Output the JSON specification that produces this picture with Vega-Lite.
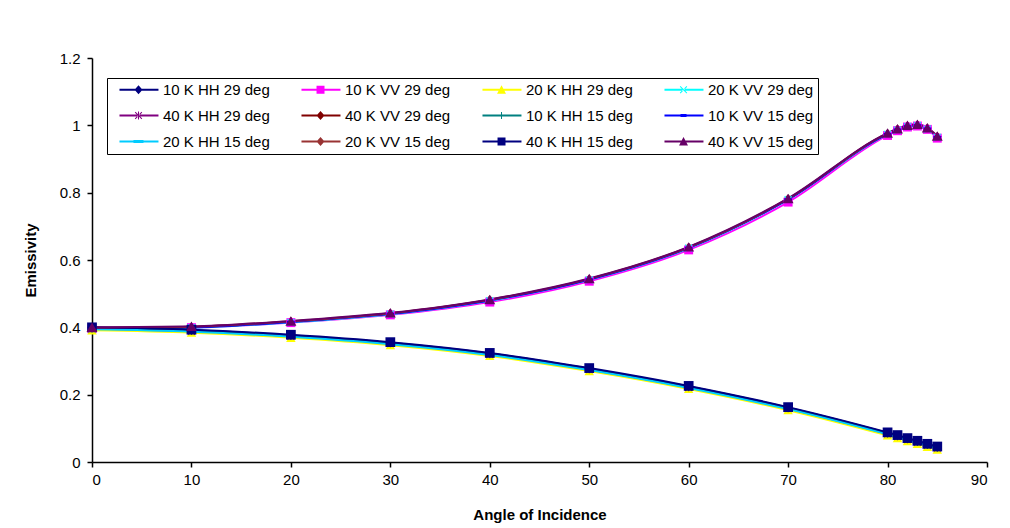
{
  "$schema": "https://vega.github.io/schema/vega-lite/v6.json",
  "width": 895,
  "height": 404,
  "autosize": "none",
  "padding": {"left": 92, "top": 58, "right": 23, "bottom": 66},
  "background": "white",
  "config": {
    "view": {"stroke": null},
    "font": "Liberation Sans",
    "axis": {"labelFont": "Liberation Sans", "titleFont": "Liberation Sans", "labelColor": "black", "titleColor": "black", "domainColor": "black", "tickColor": "black", "grid": false, "labelFontSize": 15, "titleFontSize": 15, "titleFontWeight": "bold", "tickSize": 5, "domainWidth": 1.5, "tickWidth": 1.5}
  },
  "data": {
    "values": [
      {"a": 0, "10 K HH 29 deg": 0.398, "10 K VV 29 deg": 0.396, "20 K HH 29 deg": 0.391, "20 K VV 29 deg": 0.396, "40 K HH 29 deg": 0.396, "40 K VV 29 deg": 0.398, "10 K HH 15 deg": 0.397, "10 K VV 15 deg": 0.397, "20 K HH 15 deg": 0.394, "20 K VV 15 deg": 0.399, "40 K HH 15 deg": 0.400, "40 K VV 15 deg": 0.400},
      {"a": 10, "10 K HH 29 deg": 0.391, "10 K VV 29 deg": 0.399, "20 K HH 29 deg": 0.384, "20 K VV 29 deg": 0.399, "40 K HH 29 deg": 0.389, "40 K VV 29 deg": 0.401, "10 K HH 15 deg": 0.390, "10 K VV 15 deg": 0.400, "20 K HH 15 deg": 0.387, "20 K VV 15 deg": 0.402, "40 K HH 15 deg": 0.393, "40 K VV 15 deg": 0.403},
      {"a": 20, "10 K HH 29 deg": 0.376, "10 K VV 29 deg": 0.414, "20 K HH 29 deg": 0.369, "20 K VV 29 deg": 0.415, "40 K HH 29 deg": 0.374, "40 K VV 29 deg": 0.417, "10 K HH 15 deg": 0.375, "10 K VV 15 deg": 0.416, "20 K HH 15 deg": 0.372, "20 K VV 15 deg": 0.418, "40 K HH 15 deg": 0.378, "40 K VV 15 deg": 0.419},
      {"a": 30, "10 K HH 29 deg": 0.354, "10 K VV 29 deg": 0.437, "20 K HH 29 deg": 0.347, "20 K VV 29 deg": 0.439, "40 K HH 29 deg": 0.352, "40 K VV 29 deg": 0.441, "10 K HH 15 deg": 0.353, "10 K VV 15 deg": 0.440, "20 K HH 15 deg": 0.350, "20 K VV 15 deg": 0.442, "40 K HH 15 deg": 0.356, "40 K VV 15 deg": 0.443},
      {"a": 40, "10 K HH 29 deg": 0.322, "10 K VV 29 deg": 0.475, "20 K HH 29 deg": 0.315, "20 K VV 29 deg": 0.479, "40 K HH 29 deg": 0.320, "40 K VV 29 deg": 0.481, "10 K HH 15 deg": 0.321, "10 K VV 15 deg": 0.480, "20 K HH 15 deg": 0.318, "20 K VV 15 deg": 0.482, "40 K HH 15 deg": 0.324, "40 K VV 15 deg": 0.483},
      {"a": 50, "10 K HH 29 deg": 0.277, "10 K VV 29 deg": 0.537, "20 K HH 29 deg": 0.270, "20 K VV 29 deg": 0.541, "40 K HH 29 deg": 0.275, "40 K VV 29 deg": 0.543, "10 K HH 15 deg": 0.276, "10 K VV 15 deg": 0.542, "20 K HH 15 deg": 0.273, "20 K VV 15 deg": 0.544, "40 K HH 15 deg": 0.279, "40 K VV 15 deg": 0.545},
      {"a": 60, "10 K HH 29 deg": 0.224, "10 K VV 29 deg": 0.630, "20 K HH 29 deg": 0.217, "20 K VV 29 deg": 0.635, "40 K HH 29 deg": 0.222, "40 K VV 29 deg": 0.637, "10 K HH 15 deg": 0.223, "10 K VV 15 deg": 0.636, "20 K HH 15 deg": 0.220, "20 K VV 15 deg": 0.638, "40 K HH 15 deg": 0.226, "40 K VV 15 deg": 0.639},
      {"a": 70, "10 K HH 29 deg": 0.161, "10 K VV 29 deg": 0.772, "20 K HH 29 deg": 0.154, "20 K VV 29 deg": 0.779, "40 K HH 29 deg": 0.159, "40 K VV 29 deg": 0.781, "10 K HH 15 deg": 0.160, "10 K VV 15 deg": 0.780, "20 K HH 15 deg": 0.157, "20 K VV 15 deg": 0.782, "40 K HH 15 deg": 0.163, "40 K VV 15 deg": 0.783},
      {"a": 80, "10 K HH 29 deg": 0.086, "10 K VV 29 deg": 0.970, "20 K HH 29 deg": 0.079, "20 K VV 29 deg": 0.973, "40 K HH 29 deg": 0.084, "40 K VV 29 deg": 0.975, "10 K HH 15 deg": 0.085, "10 K VV 15 deg": 0.974, "20 K HH 15 deg": 0.082, "20 K VV 15 deg": 0.976, "40 K HH 15 deg": 0.088, "40 K VV 15 deg": 0.977},
      {"a": 81, "10 K HH 29 deg": 0.078, "10 K VV 29 deg": 0.984, "20 K HH 29 deg": 0.071, "20 K VV 29 deg": 0.986, "40 K HH 29 deg": 0.076, "40 K VV 29 deg": 0.988, "10 K HH 15 deg": 0.077, "10 K VV 15 deg": 0.987, "20 K HH 15 deg": 0.074, "20 K VV 15 deg": 0.989, "40 K HH 15 deg": 0.080, "40 K VV 15 deg": 0.990},
      {"a": 82, "10 K HH 29 deg": 0.069, "10 K VV 29 deg": 0.995, "20 K HH 29 deg": 0.062, "20 K VV 29 deg": 0.996, "40 K HH 29 deg": 0.067, "40 K VV 29 deg": 0.998, "10 K HH 15 deg": 0.068, "10 K VV 15 deg": 0.997, "20 K HH 15 deg": 0.065, "20 K VV 15 deg": 0.999, "40 K HH 15 deg": 0.071, "40 K VV 15 deg": 1.000},
      {"a": 83, "10 K HH 29 deg": 0.061, "10 K VV 29 deg": 0.998, "20 K HH 29 deg": 0.054, "20 K VV 29 deg": 0.999, "40 K HH 29 deg": 0.059, "40 K VV 29 deg": 1.001, "10 K HH 15 deg": 0.060, "10 K VV 15 deg": 1.000, "20 K HH 15 deg": 0.057, "20 K VV 15 deg": 1.002, "40 K HH 15 deg": 0.063, "40 K VV 15 deg": 1.003},
      {"a": 84, "10 K HH 29 deg": 0.052, "10 K VV 29 deg": 0.988, "20 K HH 29 deg": 0.045, "20 K VV 29 deg": 0.989, "40 K HH 29 deg": 0.050, "40 K VV 29 deg": 0.991, "10 K HH 15 deg": 0.051, "10 K VV 15 deg": 0.990, "20 K HH 15 deg": 0.048, "20 K VV 15 deg": 0.992, "40 K HH 15 deg": 0.054, "40 K VV 15 deg": 0.993},
      {"a": 85, "10 K HH 29 deg": 0.044, "10 K VV 29 deg": 0.962, "20 K HH 29 deg": 0.037, "20 K VV 29 deg": 0.964, "40 K HH 29 deg": 0.042, "40 K VV 29 deg": 0.966, "10 K HH 15 deg": 0.043, "10 K VV 15 deg": 0.965, "20 K HH 15 deg": 0.040, "20 K VV 15 deg": 0.967, "40 K HH 15 deg": 0.046, "40 K VV 15 deg": 0.968}
    ]
  },
  "transform": [
    {"fold": ["10 K HH 29 deg", "10 K VV 29 deg", "20 K HH 29 deg", "20 K VV 29 deg", "40 K HH 29 deg", "40 K VV 29 deg", "10 K HH 15 deg", "10 K VV 15 deg", "20 K HH 15 deg", "20 K VV 15 deg", "40 K HH 15 deg", "40 K VV 15 deg"], "as": ["series", "e"]}
  ],
  "encoding": {
    "x": {"field": "a", "type": "quantitative", "scale": {"domain": [0, 90], "nice": false}, "axis": {"values": [0, 10, 20, 30, 40, 50, 60, 70, 80, 90], "title": "Angle of Incidence", "titlePadding": 20, "labelPadding": 5}},
    "y": {"field": "e", "type": "quantitative", "scale": {"domain": [0, 1.2], "nice": false}, "axis": {"values": [0, 0.2, 0.4, 0.6, 0.8, 1, 1.2], "format": "~g", "title": "Emissivity", "titlePadding": 21, "labelPadding": 7}},
    "color": {
      "field": "series", "type": "nominal",
      "scale": {
        "domain": ["10 K HH 29 deg", "10 K VV 29 deg", "20 K HH 29 deg", "20 K VV 29 deg", "40 K HH 29 deg", "40 K VV 29 deg", "10 K HH 15 deg", "10 K VV 15 deg", "20 K HH 15 deg", "20 K VV 15 deg", "40 K HH 15 deg", "40 K VV 15 deg"],
        "range": ["#000080", "#FF00FF", "#FFFF00", "#00FFFF", "#800080", "#800000", "#008080", "#0000FF", "#00CCFF", "#993333", "#000080", "#660066"]
      },
      "legend": {
        "title": null,
        "orient": "none",
        "direction": "horizontal",
        "legendX": 15,
        "legendY": 20,
        "columns": 4,
        "columnPadding": 23,
        "rowPadding": 10,
        "padding": 4,
        "strokeColor": "black",
        "fillColor": "white",
        "labelFont": "Liberation Sans",
        "labelFontSize": 15,
        "labelColor": "black",
        "labelOffset": 37,
        "labelLimit": 200,
        "symbolSize": 196,
        "symbolStrokeWidth": 0,
        "encode": {
          "symbols": {
            "update": {
              "shape": {"signal": "['M0.14,-0.14H5.71V0.14H0.14Z M2.86,-0.64L3.43,0L2.86,0.64L2.29,0Z', 'M0.14,-0.14H5.71V0.14H0.14Z M2.29,-0.57H3.43V0.57H2.29Z', 'M0.14,-0.14H5.71V0.14H0.14Z M2.86,-0.64L3.5,0.57H2.22Z', 'M0.14,-0.14H5.71V0.14H0.14Z M2.33,-0.43L2.43,-0.53L3.39,0.43L3.29,0.53Z M3.39,-0.43L3.29,-0.53L2.33,0.43L2.43,0.53Z', 'M0.14,-0.14H5.71V0.14H0.14Z M2.33,-0.43L2.43,-0.53L3.39,0.43L3.29,0.53Z M3.39,-0.43L3.29,-0.53L2.33,0.43L2.43,0.53Z M2.79,-0.57H2.93V0.57H2.79Z', 'M0.14,-0.14H5.71V0.14H0.14Z M2.86,-0.64L3.43,0L2.86,0.64L2.29,0Z', 'M0.14,-0.14H5.71V0.14H0.14Z M2.79,-0.5H2.93V0.5H2.79Z', 'M0.14,-0.14H5.71V0.14H0.14Z M2.43,-0.21H3.29V0.21H2.43Z', 'M0.14,-0.14H5.71V0.14H0.14Z M2.14,-0.21H3.57V0.21H2.14Z', 'M0.14,-0.14H5.71V0.14H0.14Z M2.86,-0.64L3.43,0L2.86,0.64L2.29,0Z', 'M0.14,-0.14H5.71V0.14H0.14Z M2.29,-0.57H3.43V0.57H2.29Z', 'M0.14,-0.14H5.71V0.14H0.14Z M2.86,-0.64L3.5,0.57H2.22Z'][indexof(domain('color'), datum.value)]"},
              "fill": {"signal": "scale('color', datum.value)"},
              "fillOpacity": {"value": 1},
              "opacity": {"value": 1},
              "strokeWidth": {"value": 0}
            }
          }
        }
      }
    }
  },
  "layer": [
    {"mark": {"type": "line", "interpolate": "monotone", "strokeWidth": 2}},
    {"transform": [{"filter": {"field": "series", "oneOf": ["10 K HH 29 deg", "40 K VV 29 deg", "20 K VV 15 deg"]}}], "mark": {"type": "point", "filled": true, "opacity": 1, "shape": "diamond", "size": 80}},
    {"transform": [{"filter": {"field": "series", "equal": "10 K VV 29 deg"}}], "mark": {"type": "point", "filled": true, "opacity": 1, "shape": "square", "size": 80}},
    {"transform": [{"filter": {"field": "series", "equal": "20 K HH 29 deg"}}], "mark": {"type": "point", "filled": true, "opacity": 1, "shape": "triangle-up", "size": 90}},
    {"transform": [{"filter": {"field": "series", "equal": "20 K VV 29 deg"}}], "mark": {"type": "point", "filled": true, "opacity": 1, "shape": "M-1,-0.8L-0.8,-1L1,0.8L0.8,1Z M1,-0.8L0.8,-1L-1,0.8L-0.8,1Z", "size": 60}},
    {"transform": [{"filter": {"field": "series", "equal": "40 K HH 29 deg"}}], "mark": {"type": "point", "filled": true, "opacity": 1, "shape": "M-1,-0.8L-0.8,-1L1,0.8L0.8,1Z M1,-0.8L0.8,-1L-1,0.8L-0.8,1Z M-0.12,-1H0.12V1H-0.12Z", "size": 60}},
    {"transform": [{"filter": {"field": "series", "equal": "10 K HH 15 deg"}}], "mark": {"type": "point", "filled": true, "opacity": 1, "shape": "M-0.12,-1H0.12V1H-0.12Z M-1,-0.12H1V0.12H-1Z", "size": 60}},
    {"transform": [{"filter": {"field": "series", "oneOf": ["10 K VV 15 deg", "20 K HH 15 deg"]}}], "mark": {"type": "point", "filled": true, "opacity": 1, "shape": "M-1,-0.3H1V0.3H-1Z", "size": 60}},
    {"transform": [{"filter": {"field": "series", "equal": "40 K HH 15 deg"}}], "mark": {"type": "point", "filled": true, "opacity": 1, "shape": "square", "size": 95}},
    {"transform": [{"filter": {"field": "series", "equal": "40 K VV 15 deg"}}], "mark": {"type": "point", "filled": true, "opacity": 1, "shape": "triangle-up", "size": 120}}
  ]
}
